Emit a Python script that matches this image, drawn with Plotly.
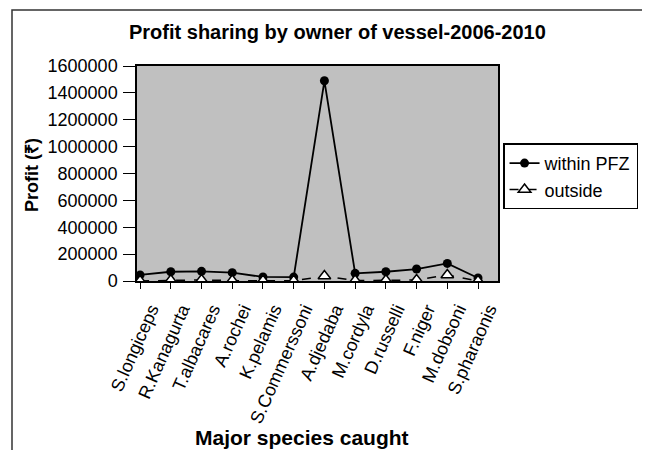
import plotly.graph_objects as go

species = ['S.longiceps', 'R.Kanagurta', 'T.albacares', 'A.rochei', 'K.pelamis',
           'S.Commerssoni', 'A.djedaba', 'M.cordyla', 'D.russelli', 'F.niger',
           'M.dobsoni', 'S.pharaonis']
within_pfz = [45000, 69000, 72000, 62000, 30000, 29000, 1490000, 57000, 69000,
              89000, 131000, 22000]
outside = [0, 5000, 8000, 3000, 2000, 1000, 37000, 3000, 5000, 8000, 45000, 0]

y_ticks = list(range(0, 1600001, 200000))

fig = go.Figure()

fig.add_trace(go.Scatter(
    x=species, y=within_pfz, mode='lines+markers', name='within PFZ',
    line=dict(color='black', width=1.8),
    marker=dict(symbol='circle', size=9, color='black'),
))
fig.add_trace(go.Scatter(
    x=species, y=outside, mode='lines+markers', name='outside',
    line=dict(color='black', width=1.5, dash='dash'),
    marker=dict(symbol='triangle-up', size=11, color='white',
                line=dict(color='black', width=1.5)),
))

# outer frame (right/bottom edges fall outside the picture)
fig.add_shape(type='rect', xref='paper', yref='paper',
              x0=-125 / 361, x1=1.6, y0=1 + 56 / 215, y1=-1.2,
              line=dict(color='#333333', width=1.5), fillcolor='rgba(0,0,0,0)',
              layer='below')

fig.update_layout(
    width=650, height=450,
    margin=dict(l=129, r=160, t=58, b=177),
    paper_bgcolor='white',
    plot_bgcolor='#c0c0c0',
    font=dict(family='Arial, Liberation Sans, sans-serif', size=18, color='black'),
    showlegend=True,
    legend=dict(x=1.014, y=0.64, xanchor='left', yanchor='top',
                bordercolor='black', borderwidth=1.5, bgcolor='white',
                font=dict(size=18), tracegroupgap=0, itemwidth=30),
    xaxis=dict(
        type='category', range=[-0.1, 11.65],
        showgrid=False, zeroline=False,
        showline=True, linecolor='black', linewidth=1.5, mirror=True,
        ticks='outside', ticklen=6, tickcolor='black',
        tickangle=-66, ticklabelshift=11, ticklabelstandoff=3,
        tickfont=dict(size=18),
    ),
    yaxis=dict(
        range=[0, 1600000], tickvals=y_ticks,
        showgrid=False, zeroline=False,
        showline=True, linecolor='black', linewidth=1.5, mirror=True,
        ticks='outside', ticklen=12, tickcolor='black', ticklabelstandoff=2,
        tickformat='d', tickfont=dict(size=18),
    ),
    annotations=[
        dict(text='<b>Profit sharing by owner of vessel-2006-2010</b>',
             xref='paper', yref='paper', x=(337 - 137) / 361, y=1 + 34 / 215,
             showarrow=False, font=dict(size=20), xanchor='center', yanchor='middle'),
        dict(text='<b>Profit (₹)</b>', textangle=-90,
             xref='paper', yref='paper', x=-105 / 361, y=(281 - 175) / 215,
             showarrow=False, font=dict(size=18), xanchor='center', yanchor='middle'),
        dict(text='<b>Major species caught</b>',
             xref='paper', yref='paper', x=(302 - 137) / 361, y=-(437 - 281) / 215,
             showarrow=False, font=dict(size=21), xanchor='center', yanchor='middle'),
    ],
)

fig.write_html('out.html')
